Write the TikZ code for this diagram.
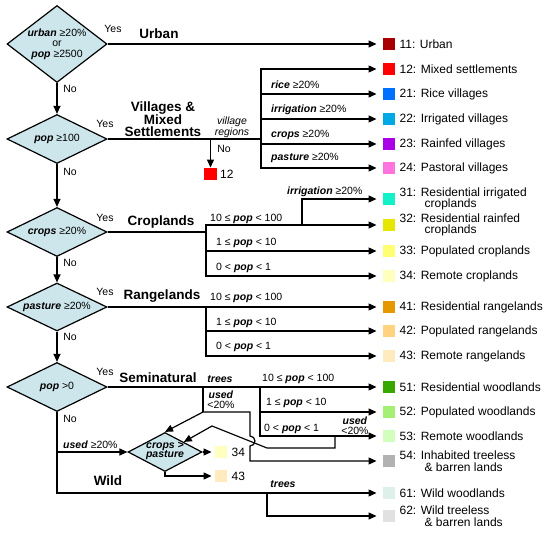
\documentclass[tikz,border=0pt]{standalone}
\usepackage{fontspec}
\setmainfont{Liberation Sans}
\usetikzlibrary{shapes.geometric,arrows.meta,calc}
\definecolor{diafill}{RGB}{205,230,236}
\definecolor{c11}{RGB}{168,0,0}
\definecolor{c12}{RGB}{255,0,0}
\definecolor{c21}{RGB}{0,112,255}
\definecolor{c22}{RGB}{0,169,230}
\definecolor{c23}{RGB}{169,0,230}
\definecolor{c24}{RGB}{255,115,223}
\definecolor{c31}{RGB}{20,240,200}
\definecolor{c32}{RGB}{230,230,0}
\definecolor{c33}{RGB}{255,255,115}
\definecolor{c34}{RGB}{255,255,190}
\definecolor{c41}{RGB}{230,152,0}
\definecolor{c42}{RGB}{255,211,127}
\definecolor{c43}{RGB}{255,235,190}
\definecolor{c51}{RGB}{56,168,0}
\definecolor{c52}{RGB}{163,240,115}
\definecolor{c53}{RGB}{211,255,190}
\definecolor{c54}{RGB}{178,178,178}
\definecolor{c61}{RGB}{222,240,234}
\definecolor{c62}{RGB}{225,225,225}
\newcommand\vb[1]{\textbf{\textit{#1}}}
\begin{document}
\begin{tikzpicture}[x=1pt,y=-1pt,
  line/.style={line width=1.2pt},
  arr/.style={line width=1.2pt,-{Triangle[length=8pt,width=7pt]}},
  dia/.style={draw,line width=1.2pt,shape=diamond,fill=diafill,inner sep=0pt,minimum width=100pt},
  dtxt/.style={font=\fontsize{10.5}{10.5}\selectfont,align=center,inner sep=0pt},
  sw/.style={draw=none,minimum size=12.5pt,inner sep=0pt},
  lt/.style={anchor=west,font=\fontsize{12}{11.5}\selectfont,inner sep=0pt,align=left},
  hd/.style={font=\fontsize{13.5}{12}\selectfont\bfseries,align=center,inner sep=0pt},
  lb/.style={font=\fontsize{10.5}{10.5}\selectfont,inner sep=0pt}]
\useasboundingbox (0,0) rectangle (550,533);

% legend
\foreach \n/\y in {11/44,12/69,21/94,22/119,23/144,24/168,31/199,32/225,33/251,34/276,41/307,42/331,43/356,51/387,52/412,53/436,54/461,61/493,62/516}{
  \node[sw,fill=c\n] (b\n) at (389,\y) {};
  \coordinate (a\n) at ([xshift=-6pt]b\n.west);
}
\node[lt] (t11) at ([xshift=4pt]b11.east) {11: Urban};
\node[lt] (t12) at ([xshift=4pt]b12.east) {12: Mixed settlements};
\node[lt] (t21) at ([xshift=4pt]b21.east) {21: Rice villages};
\node[lt] (t22) at ([xshift=4pt]b22.east) {22: Irrigated villages};
\node[lt] (t23) at ([xshift=4pt]b23.east) {23: Rainfed villages};
\node[lt] (t24) at ([xshift=4pt]b24.east) {24: Pastoral villages};
\node[lt] (t31) at ([xshift=4pt]b31.east) {31: Residential irrigated\\\hspace*{25pt}croplands};
\node[lt] (t32) at ([xshift=4pt]b32.east) {32: Residential rainfed\\\hspace*{25pt}croplands};
\node[lt] (t33) at ([xshift=4pt]b33.east) {33: Populated croplands};
\node[lt] (t34) at ([xshift=4pt]b34.east) {34: Remote croplands};
\node[lt] (t41) at ([xshift=4pt]b41.east) {41: Residential rangelands};
\node[lt] (t42) at ([xshift=4pt]b42.east) {42: Populated rangelands};
\node[lt] (t43) at ([xshift=4pt]b43.east) {43: Remote rangelands};
\node[lt] (t51) at ([xshift=4pt]b51.east) {51: Residential woodlands};
\node[lt] (t52) at ([xshift=4pt]b52.east) {52: Populated woodlands};
\node[lt] (t53) at ([xshift=4pt]b53.east) {53: Remote woodlands};
\node[lt] (t54) at ([xshift=4pt]b54.east) {54: Inhabited treeless\\\hspace*{25pt}\& barren lands};
\node[lt] (t61) at ([xshift=4pt]b61.east) {61: Wild woodlands};
\node[lt] (t62) at ([xshift=4pt]b62.east) {62: Wild treeless\\\hspace*{25pt}\& barren lands};

% diamonds
\node[dia,minimum height=77pt] (d1) at (57,44) {};
\node[dtxt] (d1t) at (d1) {\vb{urban} ≥20\%\\or\\\vb{pop} ≥2500};
\node[dia,minimum height=49pt] (d2) at (57,139) {};
\node[dtxt] (d2t) at (d2) {\vb{pop} ≥100};
\node[dia,minimum height=49pt] (d3) at (57,232) {};
\node[dtxt] (d3t) at (d3) {\vb{crops} ≥20\%};
\node[dia,minimum height=48pt] (d4) at (57,307) {};
\node[dtxt] (d4t) at (d4) {\vb{pasture} ≥20\%};
\node[dia,minimum height=49pt] (d5) at (57,387) {};
\node[dtxt] (d5t) at (d5) {\vb{pop} >0};
\node[dia,minimum width=74pt,minimum height=39pt] (d6) at (165,452) {};
\node[dtxt,font=\fontsize{10.5}{9.5}\selectfont] (d6t) at (165,451) {\vb{crops >}\\\vb{pasture}};

% main vertical flow
\draw[arr] (d1.south) -- (d2.north);
\draw[arr] (d2.south) -- (d3.north);
\draw[arr] (d3.south) -- (d4.north);
\draw[arr] (d4.south) -- (d5.north);

% Yes / No labels
\node[lb] (y1) at (113,29) {Yes};
\node[lb] (y2) at (105,124) {Yes};
\node[lb] (y3) at (105,218) {Yes};
\node[lb] (y4) at (105,292) {Yes};
\node[lb] (y5) at (105,372) {Yes};
\node[lb] (n1) at (70,89) {No};
\node[lb] (n2) at (70,172) {No};
\node[lb] (n3) at (70,263) {No};
\node[lb] (n4) at (70,337) {No};
\node[lb] (n5) at (70,419) {No};

% headings
\node[hd] (h1) at (159,34) {Urban};
\node[hd] (h2) at (163,119) {Villages \&\\Mixed\\Settlements};
\node[hd] (h3) at (161,222) {Croplands};
\node[hd] (h4) at (162,296) {Rangelands};
\node[hd] (h5) at (158,378) {Seminatural};
\node[hd] (h6) at (108,481) {Wild};

% Urban
\draw[arr] (d1.east) -- (a11);

% Villages
\coordinate (vj) at (261,139);
\draw[line] (d2.east) -- (vj);
\foreach \n in {12,21,22,23,24} \draw[arr] (vj) |- (a\n);
\node[lb,anchor=west] (l21) at (271,85) {\vb{rice} ≥20\%};
\node[lb,anchor=west] (l22) at (271,110) {\vb{irrigation} ≥20\%};
\node[lb,anchor=west] (l23) at (271,135) {\vb{crops} ≥20\%};
\node[lb,anchor=west] (l24) at (271,158) {\vb{pasture} ≥20\%};
\node[lb,align=center,font=\fontsize{10.5}{11}\selectfont\itshape] (vr) at (232,127) {village\\regions};
\node[sw,fill=c12] (b12s) at (210.5,174) {};
\node[lt,anchor=west] (t12s) at ([xshift=3pt]b12s.east) {12};
\coordinate (vd) at (210.5,139);
\draw[arr] (vd) -- (b12s.north);
\node[lb] (n6) at (224,149) {No};

% Croplands
\coordinate (cj) at (206,232);
\draw[line] (d3.east) -- (cj);
\foreach \n in {32,33,34} \draw[arr] (cj) |- (a\n);
\coordinate (ci) at (302,225);
\draw[arr] (ci) |- (a31);
\node[lb,anchor=west] (l31) at (287,192) {\vb{irrigation} ≥20\%};
\node[lb,anchor=west] (l32) at (210,219) {10 ≤ \vb{pop} < 100};
\node[lb,anchor=west] (l33) at (216,243) {1 ≤ \vb{pop} < 10};
\node[lb,anchor=west] (l34) at (216,268) {0 < \vb{pop} < 1};

% Rangelands
\coordinate (rj) at (206,307);
\draw[arr] (d4.east) -- (a41);
\foreach \n in {42,43} \draw[arr] (rj) |- (a\n);
\node[lb,anchor=west] (l41) at (210,298) {10 ≤ \vb{pop} < 100};
\node[lb,anchor=west] (l42) at (216,323) {1 ≤ \vb{pop} < 10};
\node[lb,anchor=west] (l43) at (216,347) {0 < \vb{pop} < 1};

% Seminatural
\draw[arr] (d5.east) -- (a51);
\coordinate (sj) at (260,387);
\foreach \n in {52,53} \draw[arr] (sj) |- (a\n);
\node[lb,anchor=west] (l51) at (262,379) {10 ≤ \vb{pop} < 100};
\node[lb,anchor=west] (l52) at (266,403) {1 ≤ \vb{pop} < 10};
\node[lb,anchor=west] (l53) at (264,429) {0 < \vb{pop} < 1};
\node[lb] (tr1) at (220,379) {\vb{trees}};

% used <20% (trees side)
\coordinate (u1) at (203,387);
\coordinate (u2) at (203,412);
\coordinate (u3) at (250,412);
\draw[line] (u1) -- (u2);
\draw[arr] (u2) -- (u3) -- ++(0,24) arc[start angle=90,end angle=-90,radius=5pt] -- (u3 |- a54) -- (a54);
\draw[arr] (u2) -- (d6.north);
\node[lb,align=center,font=\fontsize{10.5}{10}\selectfont] (us1) at (221,400) {\vb{used}\\<20\%};

% used <20% (remote woodlands)
\coordinate (w1) at (335,436);
\coordinate (w2) at (335,448);
\coordinate (w3) at (267,448);
\coordinate (w4) at (212,426);
\draw[arr] (w1) -- (w2) -- (w3) -- (w4) -- (d6.north east);
\node[lb,align=center,font=\fontsize{10.5}{10}\selectfont] (us2) at (355,426) {\vb{used}\\<20\%};

% used >=20%
\coordinate (ug) at (57,452);
\draw[arr] (ug) -- (d6.west);
\node[lb,anchor=west] (lug) at (63,445) {\vb{used} ≥20\%};

% crops > pasture outputs
\node[sw,fill=c34] (b34s) at (221,452) {};
\node[sw,fill=c43] (b43s) at (221,476) {};
\node[lt] (t34s) at ([xshift=4pt]b34s.east) {34};
\node[lt] (t43s) at ([xshift=4pt]b43s.east) {43};
\draw[arr] (d6.east) -- ([xshift=-3pt]b34s.west);
\draw[arr] (d6.south) |- ([xshift=-3pt]b43s.west);

% Wild
\draw[arr] (d5.south) |- (a61);
\coordinate (wt) at (267,493);
\draw[arr] (wt) |- (a62);
\node[lb] (tr2) at (283,484) {\vb{trees}};
\end{tikzpicture}
\end{document}
